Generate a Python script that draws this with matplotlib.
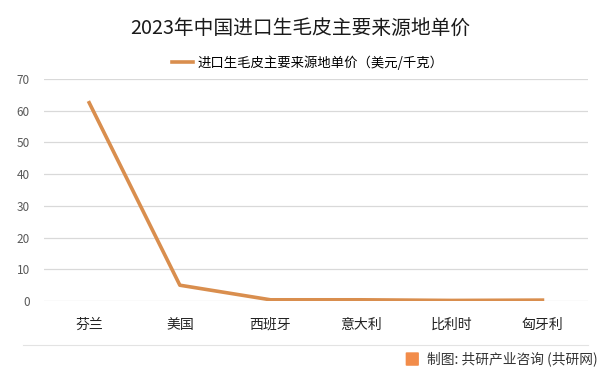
import numpy as np
import matplotlib
matplotlib.use('Agg')
import matplotlib.pyplot as plt
from matplotlib.patches import FancyBboxPatch
from matplotlib.lines import Line2D

plt.rcParams['font.family'] = ['Noto Sans CJK SC', 'DejaVu Sans']

# 数据
paesi = ['芬兰', '美国', '西班牙', '意大利', '比利时', '匈牙利']
prezzi = [62.5, 5.0, 0.4, 0.4, 0.2, 0.3]
y_ticks = [0, 10, 20, 30, 40, 50, 60, 70]
colore = '#D98E4E'

fig = plt.figure(figsize=(6.01, 3.74), dpi=100)
ax = fig.add_axes([0.073, 0.195, 0.905, 0.594])

x = np.arange(len(paesi))
ax.plot(x, prezzi, c=colore, lw=2.6, solid_joinstyle='round',
        label='进口生毛皮主要来源地单价（美元/千克）')
ax.set_xlim(-0.5, len(paesi) - 0.5)
ax.set_ylim(0, 70)
ax.set_yticks(y_ticks)
ax.set_xticks(x)
ax.set_xticklabels(paesi, fontsize=10, color='#222222')
ax.tick_params(axis='y', labelsize=8.5, labelcolor='#595959', length=0, pad=10)
ax.tick_params(axis='x', length=0, pad=12)
ax.grid(axis='y', color='#D9D9D9', lw=0.9)
ax.set_axisbelow(True)
for s in ax.spines.values():
    s.set_visible(False)

fig.text(0.5, 0.925, '2023年中国进口生毛皮主要来源地单价', ha='center', va='center',
         fontsize=14.2, color='#1a1a1a')
ax.legend(loc='lower center', bbox_to_anchor=(0.485, 1.0), frameon=False, fontsize=9.6,
          handlelength=1.6, handletextpad=0.3, borderaxespad=0.3)

# linea di separazione in basso
fig.add_artist(Line2D([0.038, 0.978], [0.077, 0.077], color='#E3E3E3', lw=0.8))

# logo + fonte
logo = FancyBboxPatch((0.677, 0.024), 0.018, 0.032, boxstyle='round,pad=0.002',
                      transform=fig.transFigure, fc='#F28C4A', ec='none')
fig.add_artist(logo)
fig.text(0.995, 0.04, '制图: 共研产业咨询 (共研网)', ha='right', va='center',
         fontsize=9.9, color='#333333')

fig.savefig('out.png', dpi=100)
